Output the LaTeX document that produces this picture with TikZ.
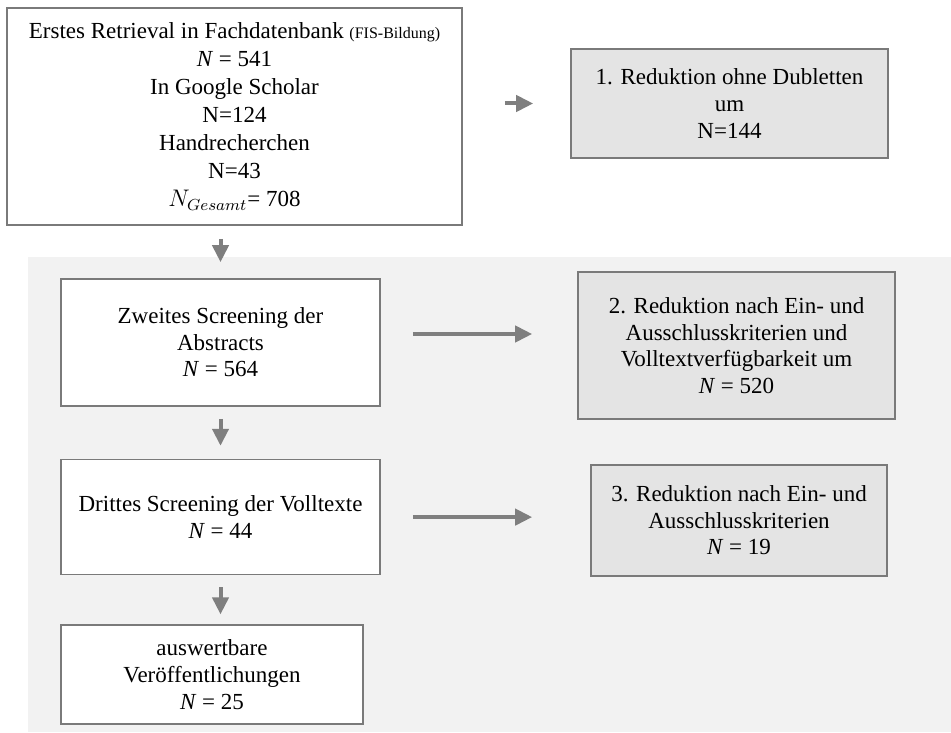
\documentclass[tikz,border=0pt]{standalone}
\usepackage{fontspec}
\setmainfont{Liberation Serif}
\usepackage{tikz}
\usetikzlibrary{positioning,arrows.meta}

\definecolor{boxline}{HTML}{7A7A7A}
\definecolor{boxgray}{HTML}{E4E4E4}
\definecolor{panelgray}{HTML}{F2F2F2}
\definecolor{arrowgray}{HTML}{7F7F7F}

\begin{document}
\begin{tikzpicture}[
  x=0.5pt, y=-0.5pt,
  box/.style={draw=boxline, line width=0.8pt, fill=#1, align=center, inner sep=2pt,
              font=\fontsize{11.5}{13.3}\selectfont},
  box/.default=white,
  arr/.style={-{Triangle[length=8.5pt,width=8pt]}, line width=2pt, draw=arrowgray}
]
  \useasboundingbox (0,0) rectangle (951,732);
  % hellgrauer Bereich fuer das Screening
  \fill[panelgray] (28,257) rectangle (951,732);

  \node[box, minimum width=227.5pt, minimum height=108.5pt,
        font=\fontsize{11.5}{14}\selectfont] (fis) at (234.5,116.5)
    {Erstes Retrieval in Fachdatenbank {\fontsize{8}{9}\selectfont (FIS-Bildung)}\\
     \textit{N} = 541\\ In Google Scholar\\ N=124\\ Handrecherchen\\ N=43\\
     $N_{Gesamt}$= 708};
  \node[box=boxgray, minimum width=158.5pt, minimum height=54.5pt] (red1) at (729.5,103.5)
    {1. Reduktion ohne Dubletten\\ um\\ N=144};

  \node[box, minimum width=159.5pt, minimum height=63.5pt] (zweites) at (220.5,342.5)
    {Zweites Screening der\\ Abstracts\\ \textit{N} = 564};
  \node[box, minimum width=159.5pt, minimum height=57.5pt, below=26pt of zweites] (drittes)
    {Drittes Screening der Volltexte\\ \textit{N} = 44};
  \node[box, minimum width=151pt, minimum height=49.5pt,
        below=24.5pt of drittes.south west, anchor=north west] (final)
    {auswertbare\\ Veröffentlichungen\\ \textit{N} = 25};

  \node[box=boxgray, minimum width=158.5pt, minimum height=73.5pt] (red2) at (736.5,345.5)
    {2. Reduktion nach Ein- und\\ Ausschlusskriterien und\\ Volltextverfügbarkeit um\\ \textit{N} = 520};
  \node[box=boxgray, minimum width=148pt, minimum height=55.5pt] (red3) at (739,520.5)
    {3. Reduktion nach Ein- und\\ Ausschlusskriterien\\ \textit{N} = 19};

  \draw[arr, shorten <=21pt, shorten >=18.5pt] (fis.east |- red1.west) -- (red1.west);
  \draw[arr, shorten <=6.5pt, shorten >=8pt] (fis.south -| zweites.north) -- (zweites.north);
  \draw[arr, shorten <=16pt, shorten >=22.5pt] ([yshift=4.25pt]zweites.east)
    -- ([yshift=4.25pt]zweites.east -| red2.west);
  \draw[arr, shorten <=6pt, shorten >=6.5pt] (zweites.south) -- (drittes.north);
  \draw[arr, shorten <=16pt, shorten >=29pt] (drittes.east) -- (drittes.east -| red3.west);
  \draw[arr, shorten <=6pt, shorten >=5pt] (drittes.south) -- (drittes.south |- final.north);
\end{tikzpicture}
\end{document}
